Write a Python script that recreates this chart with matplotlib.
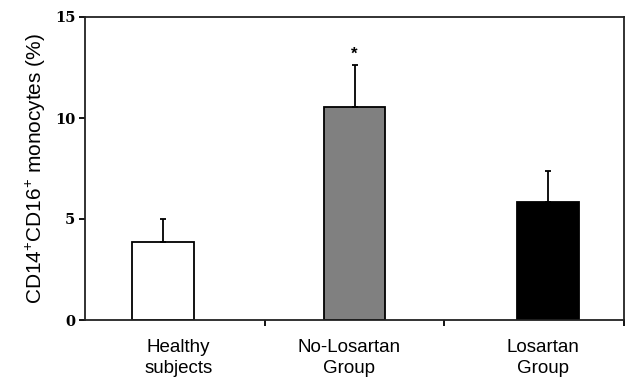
import matplotlib.pyplot as plt

plt.rcParams["mathtext.fontset"] = "custom"
plt.rcParams["mathtext.rm"] = "Liberation Sans"
plt.rcParams["mathtext.it"] = "Liberation Sans"

groups = ["Healthy\nsubjects", "No-Losartan\nGroup", "Losartan\nGroup"]
values = [3.86, 10.54, 5.84]
errors = [1.14, 2.08, 1.54]
colors = ["white", "#808080", "black"]
bar_pos = [0.434, 1.50, 2.577]
label_pos = [0.52, 1.47, 2.55]
yticks = [0, 5, 10, 15]

fig = plt.figure(figsize=(6.27, 3.81), dpi=100)
ax = fig.add_axes([85 / 627, 1 - 320 / 381, 539 / 627, 303 / 381])

ax.bar(bar_pos, values, width=0.34, color=colors, edgecolor="black", linewidth=1.3,
       yerr=[[0, 0, 0], errors], error_kw=dict(ecolor="black", elinewidth=1.3,
                                               capsize=2.5, capthick=1.3))

# significance mark above the No-Losartan bar
ax.text(bar_pos[1], values[1] + errors[1] + 0.15, "*", ha="center", va="bottom",
        fontsize=12, fontweight="bold", family="Liberation Sans")

ax.set_xlim(0, 3)
ax.set_ylim(0, 15)
ax.set_yticks(yticks)
ax.set_yticklabels([str(t) for t in yticks], family="DejaVu Serif",
                   fontweight="bold", fontsize=10.5)
ax.set_xticks([1, 2, 3])
ax.set_xticklabels([])
ax.set_xticks(label_pos, minor=True)
ax.set_xticklabels(groups, minor=True, family="Liberation Sans", fontsize=13.5,
                   linespacing=1.3)
ax.tick_params(axis="x", which="minor", length=0, pad=14)
ax.tick_params(axis="x", which="major", length=4, width=1.3, direction="out")
ax.tick_params(axis="y", length=4, width=1.3, direction="out", pad=3)

ax.set_ylabel("CD14$^{+}$CD16$^{+}$ monocytes (%)", family="Liberation Sans",
              fontsize=15, labelpad=5)

for s in ax.spines.values():
    s.set_linewidth(1.3)
    s.set_color("#222222")

fig.savefig("out.png", dpi=100)
